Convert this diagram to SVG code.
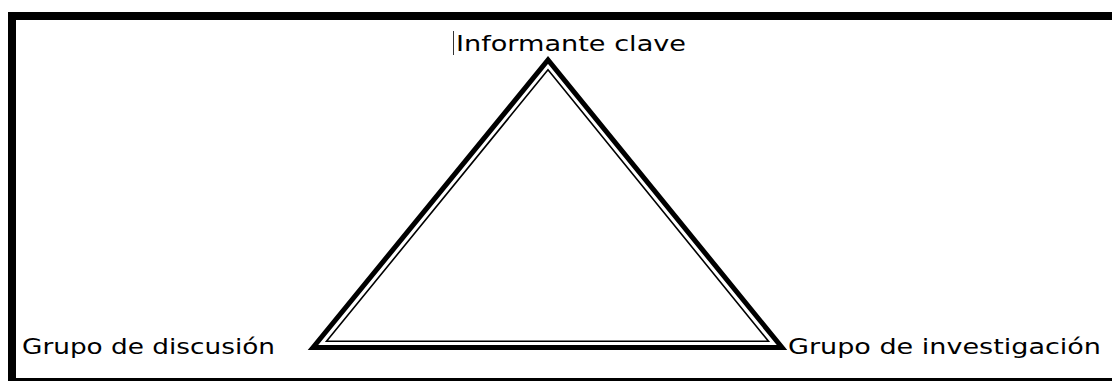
<svg xmlns="http://www.w3.org/2000/svg" width="1112" height="381" viewBox="0 0 1112 381">
  <style>
    .lbl { font-family: "DejaVu Sans", "Liberation Sans", sans-serif; font-size: 21px; fill: #000; }
    .outer { fill: none; stroke: #000; stroke-width: 5; stroke-linejoin: miter; }
    .inner { fill: none; stroke: #000; stroke-width: 1.6; stroke-linejoin: miter; }
  </style>
  <rect x="0" y="0" width="1112" height="381" fill="#fff"/>
  <rect id="frame" x="12" y="16" width="1110" height="366" fill="none" stroke="#000" stroke-width="8"/>
  <g id="connectors">
    <polygon class="outer" points="313,347.5 548,60 782,347.5"/>
    <polygon class="inner" points="326.5,341.3 548,69.8 768.5,341.3"/>
  </g>
  <g id="node-informante">
    <line x1="453.5" y1="31" x2="453.5" y2="55" stroke="#333" stroke-width="1"/>
    <text class="lbl" x="456" y="51" textLength="230" lengthAdjust="spacingAndGlyphs">Informante clave</text>
  </g>
  <g id="node-discusion">
    <text class="lbl" x="22" y="354" textLength="253" lengthAdjust="spacingAndGlyphs">Grupo de discusión</text>
  </g>
  <g id="node-investigacion">
    <text class="lbl" x="788" y="354" textLength="313" lengthAdjust="spacingAndGlyphs">Grupo de investigación</text>
  </g>
</svg>
